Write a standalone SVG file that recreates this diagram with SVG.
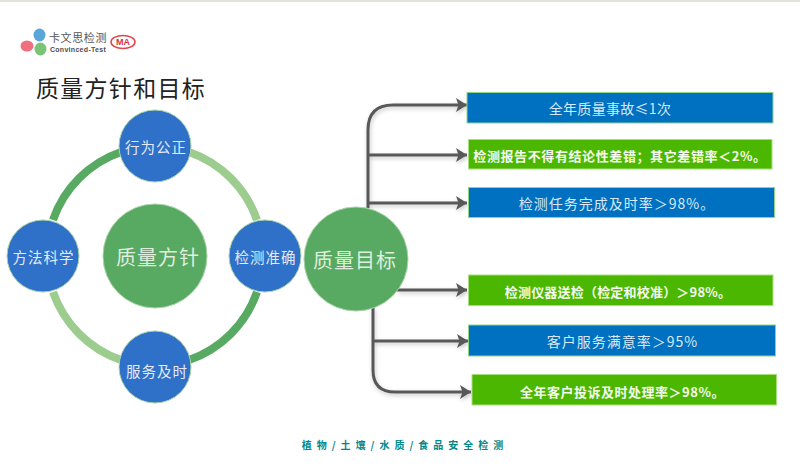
<svg xmlns="http://www.w3.org/2000/svg" width="800" height="476" viewBox="0 0 800 476">
<style>
text{font-family:"Noto Sans CJK SC","Liberation Sans",sans-serif;text-anchor:middle;dominant-baseline:central}
.big{font-size:20px;letter-spacing:1px;fill:#dfeedd}
.nd{fill:#2f70c8;stroke:#a9d3a8;stroke-width:1}
.hub{fill:#58a962;stroke:#a9d3a8;stroke-width:1}
.nt{font-size:14.500px;letter-spacing:1px;fill:#e3ebf7}
.b{fill:#0070c0;stroke:#8fd48a;stroke-width:1}
.g{fill:#4cb700;stroke:#a8de80;stroke-width:1}
.bt{font-size:14px;fill:#d8e8f6}
.gt{font-size:13px;font-weight:700;fill:#f4faee}
.ring{fill:none;stroke-width:8}
.con{fill:none;stroke:#595959;stroke-width:3}
</style>
<defs>
<marker id="ah" markerUnits="userSpaceOnUse" markerWidth="12" markerHeight="14" refX="11" refY="7" orient="auto"><path d="M0,0L11,7L0,14L2.500,7Z" fill="#595959"/></marker>
<filter id="sh" x="-20%" y="-20%" width="140%" height="140%"><feDropShadow dx="1" dy="2" stdDeviation="2" flood-color="#000" flood-opacity=".22"/></filter>
</defs>
<rect width="800" height="476" fill="#fff"/>
<rect width="800" height="2" fill="#e2e4da"/>
<g id="logo">
<ellipse cx="39.500" cy="35" rx="6" ry="6.500" fill="#5aa6d8"/>
<ellipse cx="27" cy="46" rx="6.500" ry="5.500" fill="#ef6f7f"/>
<ellipse cx="40.500" cy="49" rx="6" ry="6.500" fill="#79c477"/>
<text x="78" y="37" fill="#555" style="font-size:11px;letter-spacing:.6px">卡文思检测</text>
<text x="78" y="49" fill="#4d4d4d" style="font-size:7px;font-weight:700;letter-spacing:.3px;font-family:'Liberation Sans',sans-serif">Convinced-Test</text>
<ellipse cx="123" cy="42" rx="12" ry="6.500" fill="#fff" stroke="#e2434b" stroke-width="1.500"/>
<text x="123" y="42" fill="#d8323c" style="font-size:9px;font-weight:700;font-family:'Liberation Sans',sans-serif">MA</text>
</g>
<text id="title" x="121" y="87" fill="#222" style="font-size:23px;letter-spacing:1.300px">质量方针和目标</text>
<g id="ring">
<path class="ring" stroke="#58a962" d="M53,220A110,110 0 0 1 121,152"/>
<path class="ring" stroke="#9ccc8e" d="M189,152A110,110 0 0 1 257,220"/>
<path class="ring" stroke="#58a962" d="M257,292A110,110 0 0 1 189,360"/>
<path class="ring" stroke="#9ccc8e" d="M121,360A110,110 0 0 1 53,292"/>
</g>
<g id="connectors" filter="url(#sh)">
<path class="con" marker-end="url(#ah)" d="M368,208V130Q368,105 393,105H467"/>
<path class="con" marker-end="url(#ah)" d="M368,155H467"/>
<path class="con" marker-end="url(#ah)" d="M368,203H467"/>
<path class="con" marker-end="url(#ah)" d="M397,290H467"/>
<path class="con" marker-end="url(#ah)" d="M373,341H468"/>
<path class="con" marker-end="url(#ah)" d="M373,308V370Q373,392 395,392H471"/>
</g>
<g id="n-center"><circle class="hub" cx="155" cy="256" r="52"/><text class="big" x="158" y="256">质量方针</text></g>
<g id="n-top"><circle class="nd" cx="155" cy="146" r="36"/><text class="nt" x="156" y="146">行为公正</text></g>
<g id="n-left"><circle class="nd" cx="43" cy="256" r="36"/><text class="nt" x="43.500" y="256">方法科学</text></g>
<g id="n-right"><circle class="nd" cx="265" cy="256" r="36"/><text class="nt" x="265.500" y="256">检测准确</text></g>
<g id="n-bottom"><circle class="nd" cx="155" cy="367" r="36"/><text class="nt" x="157" y="370">服务及时</text></g>
<g id="n-goal"><circle class="hub" cx="356" cy="259" r="52"/><text class="big" x="355" y="259">质量目标</text></g>
<g id="t1"><rect class="b" x="467" y="92.500" width="306" height="30.500"/><text class="bt" x="610" y="108" style="letter-spacing:.3px">全年质量事故≤1次</text></g>
<g id="t2"><rect class="g" x="468.500" y="139.500" width="303.500" height="29.500"/><text class="gt" x="620" y="155" style="letter-spacing:.6px">检测报告不得有结论性差错；其它差错率＜2%。</text></g>
<g id="t3"><rect class="b" x="468.500" y="187.500" width="306" height="30"/><text class="bt" x="617" y="203" style="letter-spacing:1px">检测任务完成及时率＞98%。</text></g>
<g id="t4"><rect class="g" x="468.500" y="275" width="304.500" height="30.500"/><text class="gt" x="618" y="291" style="letter-spacing:.2px">检测仪器送检（检定和校准）＞98%。</text></g>
<g id="t5"><rect class="b" x="468.500" y="325" width="307" height="31"/><text class="bt" x="622.500" y="341" style="letter-spacing:1px">客户服务满意率＞95%</text></g>
<g id="t6"><rect class="g" x="472" y="374.500" width="304.500" height="30.500"/><text class="gt" x="622.500" y="391" style="letter-spacing:.5px">全年客户投诉及时处理率＞98%。</text></g>
<text id="footer" x="405" y="444" fill="#00878a" style="font-size:10px;font-weight:700;letter-spacing:5px">植物/土壤/水质/食品安全检测</text>
</svg>
